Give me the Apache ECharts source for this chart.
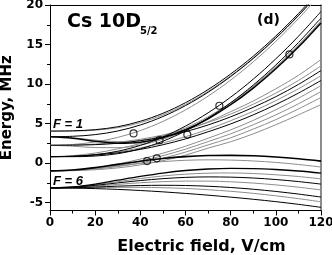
<!DOCTYPE html>
<html><head><meta charset="utf-8">
<script src="https://cdn.jsdelivr.net/npm/echarts@6/dist/echarts.min.js"></script>
<style>html,body{margin:0;padding:0;background:#fff}#c{width:332px;height:255px}</style>
</head><body><div id="c"></div>
<script>
// Electric field grid (V/cm)
const fieldX = [0,10,20,30,40,50,60,70,80,90,100,110,120];
// |mJ|=1/2 manifold (rising steeply)
const F1m0 = [4.05,4.08,4.23,4.60,5.29,6.30,7.64,9.30,11.27,13.53,16.08,18.92,22.05];
const F1m1 = [4.05,4.06,4.16,4.48,5.12,6.10,7.42,9.07,11.04,13.31,15.86,18.70,21.84];
const F2m2 = [3.33,3.39,3.60,4.06,4.82,5.89,7.27,8.96,10.95,13.23,15.80,18.65,21.79];
const F3m3 = [2.25,2.35,2.67,3.25,4.11,5.27,6.73,8.47,10.50,12.81,15.40,18.27,21.42];
const F2m0 = [3.33,3.14,2.76,2.52,2.65,3.21,4.21,5.61,7.38,9.49,11.93,14.68,17.73];
const F2m1 = [3.33,3.20,2.90,2.72,2.88,3.45,4.45,5.86,7.63,9.74,12.17,14.90,17.93];
const F3m2 = [2.25,2.14,1.96,1.95,2.28,3.02,4.14,5.64,7.48,9.64,12.13,14.91,17.99];
const F4m3 = [0.81,0.81,0.89,1.19,1.81,2.77,4.06,5.69,7.63,9.87,12.41,15.24,18.36];
const F4m4 = [0.81,0.86,1.06,1.50,2.24,3.30,4.68,6.36,8.34,10.62,13.19,16.04,19.17];
// |mJ|=3/2 manifold (dense grey band)
const F3m0 = [2.25,2.27,2.33,2.51,2.83,3.31,3.98,4.82,5.85,7.05,8.40,9.95,11.70];
const F4m0 = [0.81,0.88,1.08,1.42,1.91,2.55,3.34,4.27,5.36,6.55,7.90,9.40,11.05];
const F3m1 = [2.25,2.28,2.40,2.63,3.01,3.55,4.25,5.13,6.20,7.45,8.85,10.45,12.30];
const F4m1 = [0.81,0.86,1.02,1.30,1.73,2.32,3.06,3.96,4.95,6.10,7.40,8.85,10.45];
const F4m2 = [0.81,0.93,1.27,1.80,2.47,3.26,4.18,5.22,6.50,7.85,9.40,11.10,13.10];
const F5m2 = [-0.99,-0.89,-0.58,-0.11,0.50,1.25,2.13,3.14,4.20,5.40,6.75,8.20,9.80];
const F5m3 = [-0.99,-0.91,-0.67,-0.28,0.26,0.94,1.76,2.72,3.70,4.85,6.10,7.50,9.05];
const F5m4 = [-0.99,-0.93,-0.76,-0.44,0.01,0.62,1.39,2.30,3.20,4.30,5.50,6.85,8.30];
const F5m5 = [-0.99,-0.96,-0.84,-0.61,-0.23,0.31,1.01,1.89,2.70,3.70,4.85,6.10,7.40];
// |mJ|=5/2 manifold (falling)
const F5m1 = [-0.99,-0.87,-0.57,-0.16,0.24,0.58,0.82,0.95,0.98,0.92,0.77,0.54,0.25];
const F5m0 = [-0.99,-0.90,-0.66,-0.35,-0.05,0.19,0.35,0.41,0.38,0.27,0.08,-0.18,-0.50];
const F6m0 = [-3.15,-3.01,-2.65,-2.16,-1.68,-1.26,-0.94,-0.75,-0.67,-0.69,-0.81,-1.00,-1.27];
const F6m1 = [-3.15,-3.04,-2.74,-2.35,-1.96,-1.63,-1.40,-1.28,-1.25,-1.32,-1.48,-1.70,-2.00];
const F6m2 = [-3.15,-3.06,-2.82,-2.51,-2.21,-1.97,-1.81,-1.75,-1.78,-1.89,-2.08,-2.34,-2.66];
const F6m3 = [-3.15,-3.08,-2.91,-2.70,-2.49,-2.35,-2.28,-2.28,-2.37,-2.53,-2.76,-3.05,-3.40];
const F6m4 = [-3.15,-3.12,-3.03,-2.92,-2.84,-2.81,-2.84,-2.93,-3.09,-3.31,-3.59,-3.92,-4.30];
const F6m5 = [-3.15,-3.14,-3.10,-3.07,-3.07,-3.12,-3.21,-3.37,-3.57,-3.83,-4.14,-4.50,-4.90];
const F6m6 = [-3.15,-3.17,-3.23,-3.33,-3.47,-3.64,-3.84,-4.06,-4.31,-4.58,-4.88,-5.22,-5.60];
// experimental points
const markerX = [37, 48.5, 43, 47.3, 60.8, 75, 106];
const markerY = [3.75, 2.9, 0.25, 0.6, 3.6, 7.25, 13.75];
// axis ticks
const yTicks = [-5,0,5,10,15,20];
const yMinor = [-5,-2.5,0,2.5,5,7.5,10,12.5,15,17.5,20];

const BLK = '#000', GRY = '#8c8c8c';
const curves = [
  [F1m0,BLK,1],[F1m1,GRY,1],[F2m2,BLK,1],[F3m3,GRY,1],
  [F2m0,BLK,1.5],[F2m1,GRY,1],[F3m2,GRY,1],[F4m3,BLK,1],[F4m4,BLK,1],
  [F3m0,BLK,1],[F4m0,GRY,1],[F3m1,GRY,1],[F4m1,BLK,1],[F4m2,GRY,1],
  [F5m2,GRY,1],[F5m3,GRY,1],[F5m4,GRY,1],[F5m5,GRY,1],
  [F5m1,BLK,1.6],[F5m0,GRY,1],[F6m0,BLK,1.3],[F6m1,GRY,1],[F6m2,BLK,1],
  [F6m3,GRY,1],[F6m4,BLK,1],[F6m5,GRY,1],[F6m6,BLK,1]
];
const series = curves.map(([d,c,w]) => ({
  type:'line', data: fieldX.map((x,i)=>[x,d[i]]), smooth:0.35, symbol:'none',
  lineStyle:{color:c, width:w}, z: c===BLK?3:2, clip:true, silent:true
}));
series.push({type:'scatter', data: markerX.map((x,i)=>[x,markerY[i]]), symbol:'circle', symbolSize:7,
  itemStyle:{color:'rgba(255,255,255,0)', borderColor:'#000', borderWidth:1.2}, z:5, silent:true});

const FF = 'DejaVu Sans';
const chart = echarts.init(document.getElementById('c'));
chart.setOption({
  animation:false,
  grid:{left:50, right:11, top:5, bottom:44.5, containLabel:false, outerBoundsMode:'none'},
  xAxis:[{
    type:'value', min:0, max:120, interval:20, position:'bottom',
    axisLine:{show:true, onZero:false, lineStyle:{color:'#000', width:1}},
    axisTick:{show:true, inside:false, length:5, lineStyle:{color:'#000'}},
    minorTick:{show:true, splitNumber:2, length:3, lineStyle:{color:'#000'}},
    splitLine:{show:false}, minorSplitLine:{show:false},
    axisLabel:{fontFamily:FF, fontWeight:'bold', fontSize:12, color:'#000', margin:6},
    name:'Electric field, V/cm', nameLocation:'middle', nameGap:28,
    nameTextStyle:{fontFamily:FF, fontWeight:'bold', fontSize:16, color:'#000', padding:[0,0,0,32]}
  },{
    type:'value', min:0, max:120, position:'top',
    axisLine:{show:true, onZero:false, lineStyle:{color:'#000', width:1}},
    axisTick:{show:false}, axisLabel:{show:false}, splitLine:{show:false}
  }],
  yAxis:[{
    type:'value', min:-6, max:20, position:'left',
    axisLine:{show:true, onZero:false, lineStyle:{color:'#000', width:1}},
    axisTick:{show:true, inside:false, length:5, customValues:yTicks, lineStyle:{color:'#000'}},
    axisLabel:{customValues:yTicks, fontFamily:FF, fontWeight:'bold', fontSize:12, color:'#000', margin:7},
    splitLine:{show:false},
    name:'Energy, MHz', nameLocation:'middle', nameGap:35, nameRotate:90,
    nameTextStyle:{fontFamily:FF, fontWeight:'bold', fontSize:15, color:'#000'}
  },{
    type:'value', min:-6, max:20, position:'left',
    axisLine:{show:false}, axisLabel:{show:false}, splitLine:{show:false},
    axisTick:{show:true, inside:false, length:3, customValues:yMinor, lineStyle:{color:'#000'}}
  },{
    type:'value', min:-6, max:20, position:'right',
    axisLine:{show:true, onZero:false, lineStyle:{color:'#666', width:1.5}},
    axisTick:{show:false}, axisLabel:{show:false}, splitLine:{show:false}
  }],
  graphic:[
    {type:'text', left:67, top:13, z:10, style:{text:'Cs 10D', font:'bold 19px "DejaVu Sans"', fill:'#000'}},
    {type:'text', left:140, top:26, z:10, style:{text:'5/2', font:'bold 10px "DejaVu Sans"', fill:'#000'}},
    {type:'text', left:257, top:13, z:10, style:{text:'(d)', font:'bold 14px "DejaVu Sans"', fill:'#000'}},
    {type:'text', left:53, top:118, z:10, style:{text:'F = 1', font:'italic bold 13px "Liberation Sans"', fill:'#000'}},
    {type:'text', left:53, top:175, z:10, style:{text:'F = 6', font:'italic bold 13px "Liberation Sans"', fill:'#000'}}
  ],
  series: series
});
</script></body></html>
